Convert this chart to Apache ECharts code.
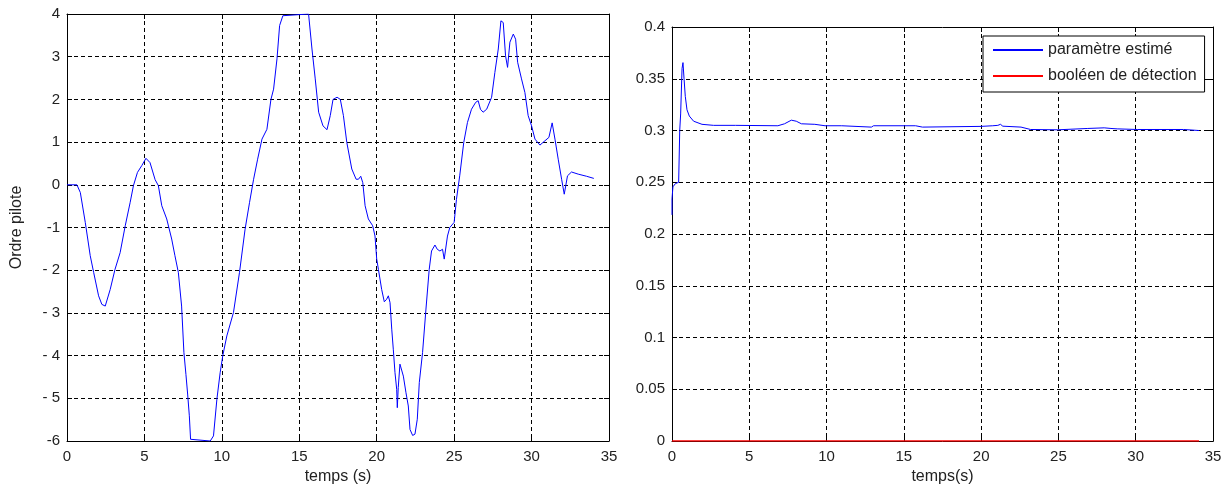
<!DOCTYPE html>
<html><head><meta charset="utf-8">
<script src="https://cdn.jsdelivr.net/npm/echarts@6/dist/echarts.min.js"></script>
<style>html,body{margin:0;padding:0;background:#fff}#c{width:1229px;height:490px}</style>
</head><body><div id="c"></div><script>
// Left plot: Ordre pilote vs temps
const leftT = [0,0.64,0.86,1.18,1.5,1.72,2.04,2.25,2.47,2.79,3.1,3.43,3.76,4.08,4.29,4.55,4.83,5.1,5.36,5.69,5.9,6.12,6.44,6.76,6.97,7.19,7.4,7.55,7.68,7.79,7.9,7.98,8.05,9.25,9.46,9.68,9.89,10.06,10.32,10.75,11.14,11.5,11.79,12.05,12.31,12.59,12.91,13.17,13.34,13.56,13.73,13.94,13.99,15.6,15.82,16.03,16.25,16.53,16.79,17.0,17.18,17.44,17.65,17.85,18.07,18.39,18.67,18.82,18.97,19.1,19.25,19.46,19.74,19.89,20.0,20.11,20.32,20.49,20.64,20.75,20.86,20.97,21.07,21.18,21.29,21.33,21.39,21.46,21.5,21.61,21.72,21.89,22.04,22.15,22.32,22.47,22.62,22.75,22.96,23.18,23.39,23.54,23.76,23.91,24.08,24.25,24.36,24.46,24.57,24.72,25.0,25.15,25.36,25.62,25.86,26.12,26.39,26.55,26.7,26.87,27.1,27.42,27.63,27.85,28.02,28.17,28.32,28.45,28.6,28.82,28.97,29.1,29.35,29.57,29.78,30.0,30.22,30.54,30.86,31.12,31.33,31.51,31.72,31.94,32.11,32.32,32.58,33.01,33.55,34.02];
const leftV = [0,0,-0.18,-0.88,-1.66,-2.05,-2.6,-2.8,-2.84,-2.45,-1.98,-1.59,-0.96,-0.41,-0.02,0.29,0.45,0.62,0.52,0.12,-0.02,-0.49,-0.8,-1.27,-1.66,-2.05,-2.84,-3.93,-4.44,-4.9,-5.41,-5.96,-6,-6,-5.88,-5.02,-4.4,-4.0,-3.54,-2.99,-2.05,-1.04,-0.41,0.13,0.6,1.07,1.3,2.0,2.24,2.95,3.73,3.96,4,4,3.18,2.48,1.7,1.38,1.29,1.62,2.0,2.05,2.0,1.62,0.99,0.37,0.13,0.13,0.2,0.05,-0.49,-0.8,-0.96,-1.2,-1.74,-1.98,-2.45,-2.74,-2.68,-2.6,-2.76,-3.38,-3.85,-4.4,-4.79,-5.22,-4.75,-4.71,-4.2,-4.16,-4.48,-4.87,-5.18,-5.73,-5.87,-5.84,-5.49,-4.63,-3.93,-2.91,-1.98,-1.55,-1.41,-1.51,-1.55,-1.51,-1.74,-1.78,-1.2,-1.0,-0.88,-0.34,0.21,0.99,1.46,1.77,1.93,1.97,1.77,1.7,1.77,2.05,2.63,3.18,3.84,3.8,3.02,2.75,3.34,3.53,3.41,2.87,2.48,2.16,1.62,1.38,1.07,0.93,1.03,1.11,1.45,1.07,0.6,0.13,-0.22,0.21,0.3,0.25,0.2,0.15];
// Right plot: paramètre estimé
const paramT = [0,0,0.06,0.22,0.43,0.5,0.56,0.65,0.71,0.78,0.86,0.97,1.12,1.4,1.94,2.69,4.1,6.85,7.28,7.72,8.04,8.37,9.24,9.9,10.98,11.1,12.9,13.04,15.76,16.2,20.0,20.75,21.08,21.25,21.4,22.58,23.2,24.95,26.9,27.96,28.4,28.8,30.1,33.1,34.1];
const paramV = [0.2185,0.234,0.2456,0.2487,0.25,0.3,0.316,0.36,0.3656,0.35,0.333,0.32,0.314,0.309,0.306,0.305,0.305,0.3046,0.3065,0.31,0.309,0.3065,0.306,0.3046,0.3046,0.3033,0.3033,0.3046,0.3046,0.3033,0.304,0.3046,0.305,0.306,0.3042,0.3033,0.301,0.3007,0.302,0.3026,0.302,0.3016,0.301,0.301,0.300];
// Right plot: booléen de détection
const detT = [0, 34.1];
const detV = [0, 0];
const leftYLabels = {'-6':'-6','-5':'- 5','-4':'- 4','-3':'- 3','-2':'- 2','-1':'-1','0':'0','1':'1','2':'2','3':'3','4':'4'};

const zip = (a, b) => a.map((t, i) => [t, b[i]]);
const FONT = 'Liberation Sans, Arial, sans-serif';
const TXT = '#222';
function xAx(grid, name, pos) {
  const main = pos === 'bottom';
  return {
    type: 'value', gridIndex: grid, position: pos, min: 0, max: 35, interval: 5,
    name: main ? name : '', nameLocation: 'middle', nameGap: 27,
    nameTextStyle: {fontFamily: FONT, fontSize: 16, color: TXT},
    axisLine: {show: true, onZero: false, lineStyle: {color: '#000', width: 1}},
    axisTick: {show: true, inside: true, length: 5, lineStyle: {color: '#000'}},
    axisLabel: {show: main, margin: 8, fontFamily: FONT, fontSize: 15, color: TXT},
    splitLine: {show: main, lineStyle: {type: [4, 3], color: '#000', width: 1}}
  };
}
function yAx(grid, pos, min, max, interval, fmt, name) {
  const main = pos === 'left';
  return {
    type: 'value', gridIndex: grid, position: pos, min, max, interval,
    name: main && name ? name : '', nameLocation: 'middle', nameGap: 42,
    nameTextStyle: {fontFamily: FONT, fontSize: 16, color: TXT},
    axisLine: {show: true, onZero: false, lineStyle: {color: '#000', width: 1}},
    axisTick: {show: true, inside: true, length: 5, lineStyle: {color: '#000'}},
    axisLabel: {show: main, margin: 7, fontFamily: FONT, fontSize: 15, color: TXT, formatter: fmt},
    splitLine: {show: main, lineStyle: {type: [4, 3], color: '#000', width: 1}}
  };
}
const chart = echarts.init(document.getElementById('c'));
chart.setOption({
  animation: false,
  backgroundColor: '#fff',
  grid: [
    {left: 67, top: 14, width: 542, height: 427},
    {left: 672, top: 27, width: 541, height: 419}
  ],
  xAxis: [xAx(0, 'temps (s)', 'bottom'), xAx(0, '', 'top'), xAx(1, 'temps(s)', 'bottom'), xAx(1, '', 'top')],
  yAxis: [
    yAx(0, 'left', -6, 4, 1, v => leftYLabels[String(v)] ?? String(v), 'Ordre pilote'),
    yAx(0, 'right', -6, 4, 1, null, ''),
    yAx(1, 'left', 0, 0.4, 0.05, null, ''),
    yAx(1, 'right', 0, 0.4, 0.05, null, '')
  ],
  legend: {
    orient: 'vertical', left: 983, top: 36, padding: [6, 8, 8, 9],
    itemWidth: 50, itemHeight: 14, itemGap: 10, itemTextGap: 6,
    backgroundColor: '#fff', borderColor: '#000', borderWidth: 1,
    itemStyle: {opacity: 0, borderWidth: 0},
    textStyle: {fontFamily: FONT, fontSize: 16, color: TXT},
    data: ['paramètre estimé', 'booléen de détection']
  },
  series: [
    {type: 'line', xAxisIndex: 0, yAxisIndex: 0, data: zip(leftT, leftV), symbol: 'none',
     lineStyle: {color: '#0000ff', width: 1}, itemStyle: {color: '#0000ff'}},
    {name: 'paramètre estimé', type: 'line', xAxisIndex: 2, yAxisIndex: 2, data: zip(paramT, paramV), symbol: 'none',
     lineStyle: {color: '#0000ff', width: 1}, itemStyle: {color: '#0000ff'}},
    {name: 'booléen de détection', type: 'line', xAxisIndex: 2, yAxisIndex: 2, data: zip(detT, detV), symbol: 'none',
     lineStyle: {color: '#ff0000', width: 1.5}, itemStyle: {color: '#ff0000'}, z: 5}
  ]
});
</script></body></html>
